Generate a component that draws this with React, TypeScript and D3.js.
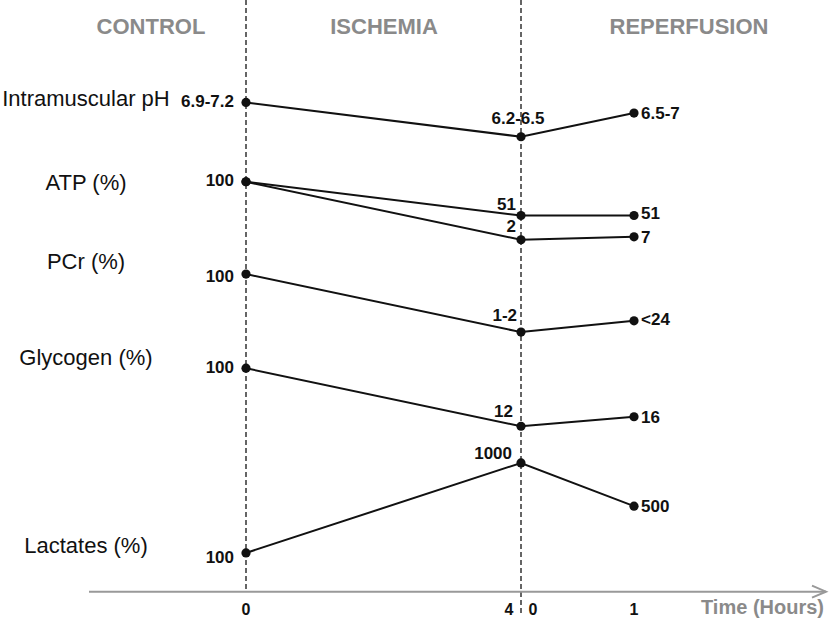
import React from "react";
import * as d3 from "d3";

// Phases (headers) and time ticks
const phases = ["CONTROL", "ISCHEMIA", "REPERFUSION"];
const phaseCenters = [151, 384, 689]; // layout
const timeKeys = [0, 4, 5]; // hours along the schematic time axis (4h ischemia, then 1h reperfusion)
const tickLabels = ["0", "4", "0", "1"];
const tickTimes = [0, 4, 4, 5];

// Series (schematic levels, 0..100 vertical units)
const seriesNames = ["Intramuscular pH", "ATP (%)", "ATP (%)", "PCr (%)", "Glycogen (%)", "Lactates (%)"];
const phLevels = [82.7, 76.9, 80.9];
const atpALevels = [69.3, 63.6, 63.6];
const atpBLevels = [69.3, 59.5, 60.0];
const pcrLevels = [53.7, 43.9, 45.8];
const glycogenLevels = [37.8, 28.0, 29.6];
const lactateLevels = [6.6, 21.8, 14.5];

const phLabels = ["6.9-7.2", "6.2-6.5", "6.5-7"];
const atpALabels = ["100", "51", "51"];
const atpBLabels = ["", "2", "7"];
const pcrLabels = ["100", "1-2", "<24"];
const glycogenLabels = ["100", "12", "16"];
const lactateLabels = ["100", "1000", "500"];

const allLevels = [phLevels, atpALevels, atpBLevels, pcrLevels, glycogenLevels, lactateLevels];
const allLabels = [phLabels, atpALabels, atpBLabels, pcrLabels, glycogenLabels, lactateLabels];

// Layout (label offsets relative to points)
const midLabelLayout = [
  { anchor: "middle", dx: -3, dy: -13 },
  { anchor: "end", dx: -5, dy: -5 },
  { anchor: "end", dx: -5, dy: -7.3 },
  { anchor: "end", dx: -4, dy: -11.6 },
  { anchor: "end", dx: -8, dy: -9.3 },
  { anchor: "end", dx: -9, dy: -4.4 },
];
const endLabelDy = [5.7, 4, 6.6, 4, 5.9, 5.9];
const startLabelDy = [4.2, 4, 0, 7.5, 4.6, 10];
const categoryDy = [3.7, 8.3, 0, -4.7, -3.3, 0];

const W = 830;
const H = 622;

export default function App() {
  const x = d3.scaleLinear().domain(timeKeys).range([246, 521, 634]);
  const y = d3.scaleLinear().domain([0, 100]).range([592, 0]);
  const line = d3
    .line<number>()
    .x((_, i) => x(timeKeys[i]))
    .y((d) => y(d));

  const axisY = y(0) - 0.3;
  const gray = "#8a8a8a";
  const font = "Liberation Sans, Arial, sans-serif";

  return (
    <svg
      width={W}
      height={H}
      style={{ position: "absolute", left: 0, top: 0, background: "#fff" }}
      fontFamily={font}
    >
      {/* headers */}
      {phases.map((p, i) => (
        <text key={p} x={phaseCenters[i]} y={34} textAnchor="middle" fontSize={22} fontWeight="bold" fill={gray}>
          {p}
        </text>
      ))}

      {/* dashed verticals */}
      <line x1={x(0)} x2={x(0)} y1={0} y2={axisY} stroke="#333" strokeWidth={1.5} strokeDasharray="5,3" />
      <line x1={x(4)} x2={x(4)} y1={0} y2={616} stroke="#333" strokeWidth={1.5} strokeDasharray="5,3" />

      {/* time axis */}
      <line x1={89} x2={826} y1={axisY} y2={axisY} stroke="#999" strokeWidth={2} />
      <path d={`M${812},${axisY - 6} L${826},${axisY} L${812},${axisY + 6}`} fill="none" stroke="#999" strokeWidth={2} />
      {tickLabels.map((t, i) => {
        const tx = x(tickTimes[i]);
        let ax = tx;
        if (i === 1) ax = tx - 12;
        if (i === 2) ax = tx + 12;
        return (
          <text key={i} x={ax} y={615} textAnchor="middle" fontSize={16} fontWeight="bold" fill="#111">
            {t}
          </text>
        );
      })}
      <text x={701} y={614} fontSize={20} fontWeight="bold" fill={gray}>
        Time (Hours)
      </text>

      {/* category labels */}
      {seriesNames.map((n, i) =>
        i === 2 ? null : (
          <text key={i} x={86} y={y(allLevels[i][0]) + categoryDy[i]} textAnchor="middle" fontSize={22} fill="#111">
            {n}
          </text>
        )
      )}

      {/* series */}
      {allLevels.map((lv, i) => (
        <g key={i}>
          <path d={line(lv) || ""} fill="none" stroke="#111" strokeWidth={2} />
          {lv.map((v, j) => (
            <circle key={j} cx={x(timeKeys[j])} cy={y(v)} r={4.6} fill="#111" />
          ))}
          {allLabels[i][0] && (
            <text
              x={x(timeKeys[0]) - 12}
              y={y(lv[0]) + startLabelDy[i]}
              textAnchor="end"
              fontSize={17}
              fontWeight="bold"
              fill="#111"
            >
              {allLabels[i][0]}
            </text>
          )}
          <text
            x={x(timeKeys[1]) + midLabelLayout[i].dx}
            y={y(lv[1]) + midLabelLayout[i].dy}
            textAnchor={midLabelLayout[i].anchor as any}
            fontSize={17}
            fontWeight="bold"
            fill="#111"
          >
            {allLabels[i][1]}
          </text>
          <text
            x={x(timeKeys[2]) + 7}
            y={y(lv[2]) + endLabelDy[i]}
            fontSize={17}
            fontWeight="bold"
            fill="#111"
          >
            {allLabels[i][2]}
          </text>
        </g>
      ))}
    </svg>
  );
}
